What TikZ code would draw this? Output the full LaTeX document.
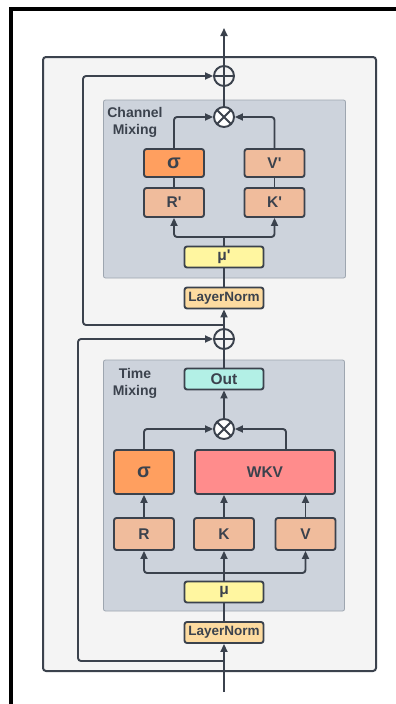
\documentclass[tikz,border=0pt]{standalone}
\usepackage{fontspec}
\setmainfont{Liberation Sans}
\usetikzlibrary{arrows.meta,calc}

\definecolor{ink}{HTML}{3B424D}
\definecolor{blockbg}{HTML}{F4F4F4}
\definecolor{mixbg}{HTML}{CDD3DC}
\definecolor{mixline}{HTML}{9EA6B0}
\definecolor{sigfill}{HTML}{FF9F5F}
\definecolor{projfill}{HTML}{F0BC9C}
\definecolor{wkvfill}{HTML}{FF8C8C}
\definecolor{mufill}{HTML}{FFF6A0}
\definecolor{lnfill}{HTML}{FDDBA0}
\definecolor{outfill}{HTML}{B3F0E6}

\begin{document}
\begin{tikzpicture}[x=1pt, y=-1pt,
    blk/.style={draw=ink, line width=1.9pt, rounded corners=2.5pt, inner sep=0pt, minimum width=60pt, minimum height=29pt, text=ink, font=\bfseries\fontsize{15.5}{17}\selectfont},
    sig/.style={blk, fill=sigfill, font=\bfseries\fontsize{20}{20}\selectfont},
    proj/.style={blk, fill=projfill},
    thin/.style={blk, minimum width=79pt, minimum height=21pt},
    norm/.style={thin, fill=lnfill, font=\bfseries\fontsize{13.5}{15}\selectfont},
    op/.style={circle, draw=ink, line width=1.9pt, minimum size=20pt, inner sep=0pt, fill=white},
    addop/.style={op, fill=blockbg, path picture={\draw[ink, line width=1.9pt] (path picture bounding box.north) -- (path picture bounding box.south) (path picture bounding box.west) -- (path picture bounding box.east);}},
    mulop/.style={op, path picture={\draw[ink, line width=1.9pt] (path picture bounding box.north west) -- (path picture bounding box.south east) (path picture bounding box.north east) -- (path picture bounding box.south west);}},
    mixbox/.style={draw=mixline, line width=0.8pt, fill=mixbg, rounded corners=2pt, inner sep=0pt},
    mixlabel/.style={align=center, text=ink, font=\bfseries\fontsize{14}{17}\selectfont},
    line/.style={ink, line width=1.9pt},
    arr/.style={line, -{Triangle[length=8pt, width=7pt]}}
]
\useasboundingbox (0,0) rectangle (396,704);
\fill[white] (0,0) rectangle (396,704);

% frame round the page
\draw[black, line width=3.5pt] (11,704) -- (11,9) -- (396,9);

% outer block and the two mixing parts
\node[draw=ink, line width=2pt, fill=blockbg, rounded corners=3pt, minimum width=333pt, minimum height=614pt] (block) at (209.5,364) {};
\node[mixbox, minimum width=242pt, minimum height=178pt] (cmix) at (224.5,189) {};
\node[mixbox, minimum width=241pt, minimum height=251pt] (tmix) at (224,485.5) {};
\node[mixlabel] (cmixlbl) at (135,122.5) {Channel\\Mixing};
\node[mixlabel] (tmixlbl) at (135,383.5) {Time\\Mixing};

% time mixing
\node[norm] (ln1) at (224,632.5) {LayerNorm};
\node[blk, thin, fill=mufill] (mu) at (224,592) {μ};
\node[proj, minimum height=32pt] (r) at (144,534) {R};
\node[proj, minimum height=32pt] (k) at (224,534) {K};
\node[proj, minimum height=32pt] (v) at (305.5,534) {V};
\node[sig, minimum height=44pt] (sigt) at (144,472) {σ};
\node[blk, fill=wkvfill, minimum width=140pt, minimum height=44pt] (wkv) at (265,472) {WKV};
\node[mulop] (mult) at (224,429) {};
\node[blk, thin, fill=outfill] (out) at (224,379) {Out};
\node[addop] (addt) at (224,339) {};

% channel mixing
\node[norm] (ln2) at (224,298) {LayerNorm};
\node[blk, thin, fill=mufill] (muc) at (224,257) {μ\textquotesingle};
\node[proj, minimum height=29pt] (rc) at (174,202.5) {R\textquotesingle};
\node[proj, minimum height=29pt] (kc) at (274.5,202.5) {K\textquotesingle};
\node[sig, minimum height=28pt] (sigc) at (174,163) {σ};
\node[proj, minimum height=28pt] (vc) at (274.5,163) {V\textquotesingle};
\node[mulop] (mulc) at (224,117) {};
\node[addop] (addc) at (224,76) {};

\coordinate (in) at (224,692);
\coordinate (top) at (224,28);
\coordinate (split) at (224,573);
\coordinate (splitc) at (224,237);
\coordinate (res1) at (224,661);
\coordinate (res2) at (224,325);
\coordinate (skip1) at (78,661);
\coordinate (skip2) at (83,325);

% time mixing wires
\draw[arr] (in) -- (ln1);
\draw[line] (ln1) -- (mu);
\draw[line] (mu) -- (split);
\draw[arr] (split) -- (k);
\draw[arr, rounded corners=3pt] (split) -| (r);
\draw[arr, rounded corners=3pt] (split) -| (v);
\draw[arr] (r) -- (sigt);
\draw[arr] (k.north) -- (k.north |- wkv.south);
\draw[arr] (v.north) -- (v.north |- wkv.south);
\draw[arr, rounded corners=3pt] (sigt.north) |- (mult);
\draw[arr, rounded corners=3pt] ($(wkv.north)+(21,0)$) |- (mult);
\draw[arr] (mult) -- (out);
\draw[line] (out) -- (addt);
\draw[arr, rounded corners=3pt] (res1) -- (skip1) |- (addt);

% channel mixing wires
\draw[arr] (addt) -- (ln2);
\draw[line] (ln2) -- (muc);
\draw[line] (muc) -- (splitc);
\draw[arr, rounded corners=3pt] (splitc) -| (rc);
\draw[arr, rounded corners=3pt] (splitc) -| (kc);
\draw[line] (rc) -- (sigc);
\draw[line] (kc) -- (vc);
\draw[arr, rounded corners=3pt] (sigc.north) |- (mulc);
\draw[arr, rounded corners=3pt] (vc.north) |- (mulc);
\draw[line] (mulc) -- (addc);
\draw[arr, rounded corners=3pt] (res2) -- (skip2) |- (addc);
\draw[arr] (addc) -- (top);
\end{tikzpicture}
\end{document}
